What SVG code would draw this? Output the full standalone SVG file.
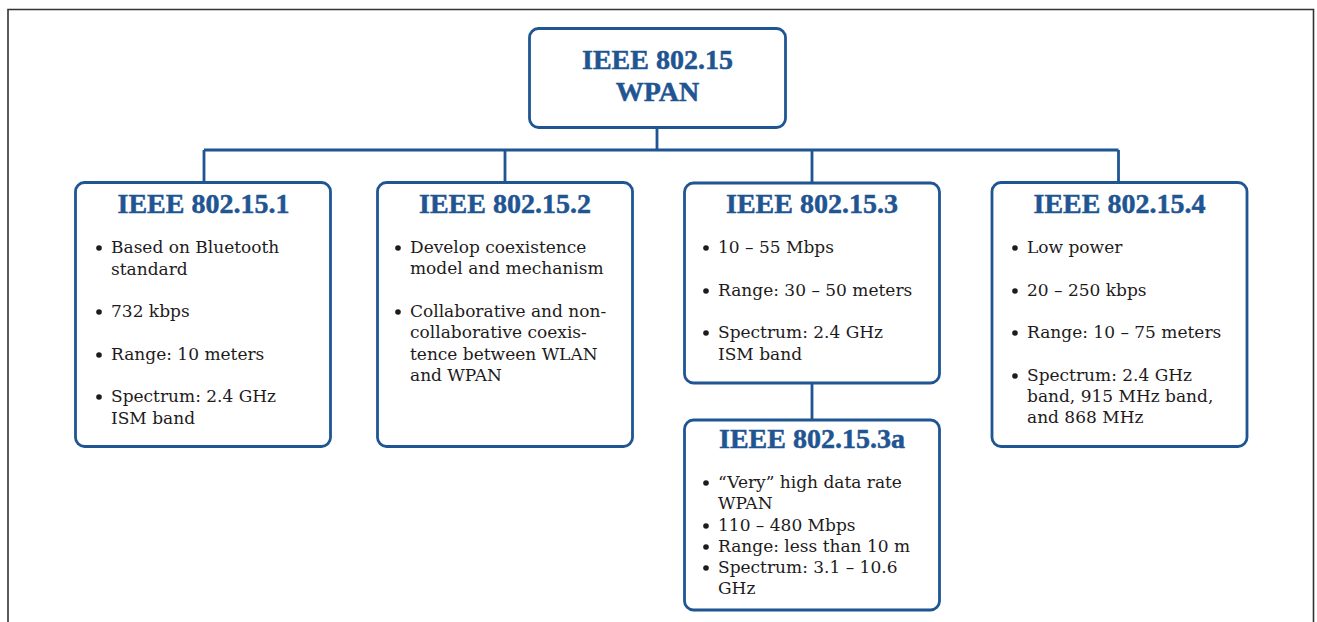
<svg xmlns="http://www.w3.org/2000/svg" width="1317" height="622" viewBox="0 0 1317 622">
<style>
.box{fill:#fff;stroke:#1f5592;stroke-width:2.8}
.conn{fill:none;stroke:#1f5592;stroke-width:2.8}
.title{font-family:"Liberation Serif",serif;font-weight:bold;font-size:28px;fill:#1f5592;stroke:#1f5592;stroke-width:0.5;text-anchor:middle}
.t{font-family:"DejaVu Serif",serif;font-size:17px;fill:#1e1b1c}
.b{fill:#1e1b1c}
</style>
<rect width="1317" height="622" fill="#fff"/>
<path d="M8,622 V9.5 H1313.5 V622" fill="none" stroke="#333" stroke-width="1.6"/>
<g id="connectors">
<path class="conn" d="M657,128 V150 M204,150 H1118.5 M204,150 V182 M505,150 V182 M812,150 V183 M1118.5,150 V182 M812,383 V420"/>
</g>
<g id="root">
<rect class="box" x="529.5" y="28.5" width="256" height="99" rx="9"/>
<text class="title" x="657.5" y="69">IEEE 802.15</text>
<text class="title" x="657.5" y="101">WPAN</text>
</g>
<g id="n1">
<rect class="box" x="75.5" y="182.5" width="255" height="264" rx="9"/>
<text class="title" x="203.5" y="213">IEEE 802.15.1</text>
<circle class="b" cx="99" cy="248" r="2.8"/>
<text class="t" x="111" y="253">Based on Bluetooth</text>
<text class="t" x="111" y="275">standard</text>
<circle class="b" cx="99" cy="312" r="2.8"/>
<text class="t" x="111" y="317">732 kbps</text>
<circle class="b" cx="99" cy="355" r="2.8"/>
<text class="t" x="111" y="360">Range: 10 meters</text>
<circle class="b" cx="99" cy="397" r="2.8"/>
<text class="t" x="111" y="402">Spectrum: 2.4 GHz</text>
<text class="t" x="111" y="424">ISM band</text>
</g>
<g id="n2">
<rect class="box" x="377.5" y="182.5" width="255" height="264" rx="9"/>
<text class="title" x="505" y="213">IEEE 802.15.2</text>
<circle class="b" cx="398" cy="248" r="2.8"/>
<text class="t" x="410" y="253">Develop coexistence</text>
<text class="t" x="410" y="274">model and mechanism</text>
<circle class="b" cx="398" cy="312" r="2.8"/>
<text class="t" x="410" y="317">Collaborative and non-</text>
<text class="t" x="410" y="338">collaborative coexis-</text>
<text class="t" x="410" y="360">tence between WLAN</text>
<text class="t" x="410" y="381">and WPAN</text>
</g>
<g id="n3">
<rect class="box" x="684.5" y="183" width="255" height="200" rx="9"/>
<text class="title" x="812" y="213">IEEE 802.15.3</text>
<circle class="b" cx="706" cy="248" r="2.8"/>
<text class="t" x="718" y="253">10 – 55 Mbps</text>
<circle class="b" cx="706" cy="291" r="2.8"/>
<text class="t" x="718" y="296">Range: 30 – 50 meters</text>
<circle class="b" cx="706" cy="333" r="2.8"/>
<text class="t" x="718" y="338">Spectrum: 2.4 GHz</text>
<text class="t" x="718" y="360">ISM band</text>
</g>
<g id="n3a">
<rect class="box" x="684.5" y="420" width="255" height="190" rx="9"/>
<text class="title" x="812" y="448">IEEE 802.15.3a</text>
<circle class="b" cx="706" cy="483" r="2.8"/>
<text class="t" x="718" y="488">“Very” high data rate</text>
<text class="t" x="718" y="509">WPAN</text>
<circle class="b" cx="706" cy="526" r="2.8"/>
<text class="t" x="718" y="531">110 – 480 Mbps</text>
<circle class="b" cx="706" cy="547" r="2.8"/>
<text class="t" x="718" y="552">Range: less than 10 m</text>
<circle class="b" cx="706" cy="568" r="2.8"/>
<text class="t" x="718" y="573">Spectrum: 3.1 – 10.6</text>
<text class="t" x="718" y="594">GHz</text>
</g>
<g id="n4">
<rect class="box" x="992" y="182.5" width="255" height="264" rx="9"/>
<text class="title" x="1119.5" y="213">IEEE 802.15.4</text>
<circle class="b" cx="1015" cy="248" r="2.8"/>
<text class="t" x="1027" y="253">Low power</text>
<circle class="b" cx="1015" cy="291" r="2.8"/>
<text class="t" x="1027" y="296">20 – 250 kbps</text>
<circle class="b" cx="1015" cy="333" r="2.8"/>
<text class="t" x="1027" y="338">Range: 10 – 75 meters</text>
<circle class="b" cx="1015" cy="376" r="2.8"/>
<text class="t" x="1027" y="381">Spectrum: 2.4 GHz</text>
<text class="t" x="1027" y="402">band, 915 MHz band,</text>
<text class="t" x="1027" y="423">and 868 MHz</text>
</g>
</svg>
